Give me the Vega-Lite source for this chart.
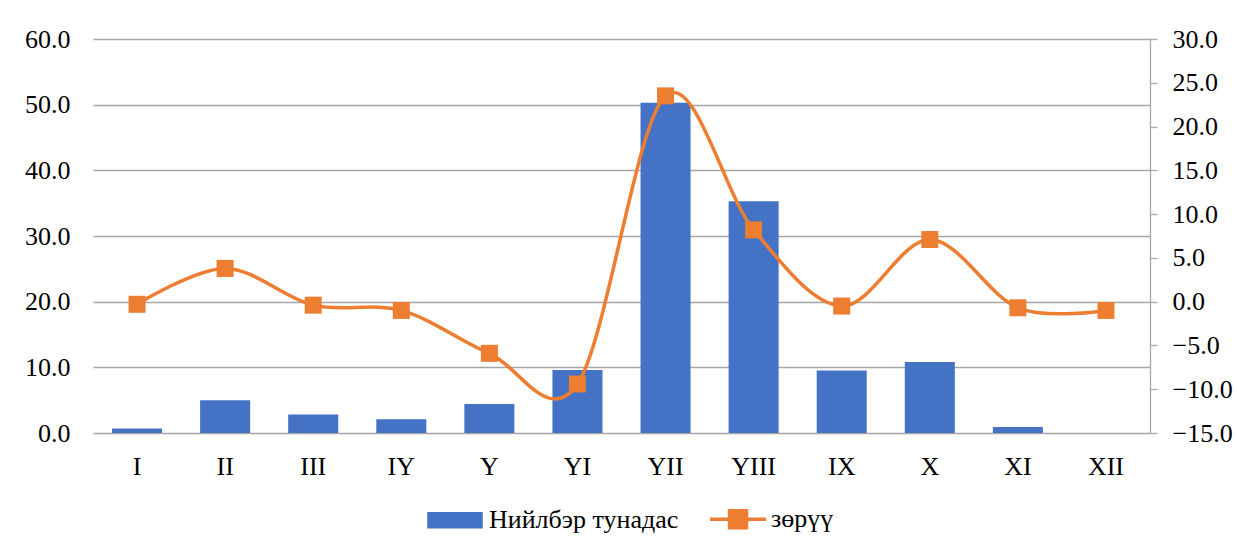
{
  "$schema": "https://vega.github.io/schema/vega-lite/v6.json",
  "autosize": {"type": "none"},
  "width": 1057,
  "height": 394,
  "padding": {"left": 93, "top": 39, "right": 87, "bottom": 119},
  "background": "white",
  "config": {
    "view": {"stroke": null},
    "font": "Times New Roman, Liberation Serif, serif",
    "axis": {"labelFont": "Times New Roman, Liberation Serif, serif", "labelFontSize": 26, "labelColor": "#000000", "title": null},
    "legend": {"labelFont": "Times New Roman, Liberation Serif, serif", "labelFontSize": 26, "labelColor": "#000000", "labelLimit": 0}
  },
  "data": {
    "values": [
      {"m": "I", "series": "Нийлбэр тунадас", "v": 0.7},
      {"m": "II", "series": "Нийлбэр тунадас", "v": 5.0},
      {"m": "III", "series": "Нийлбэр тунадас", "v": 2.8},
      {"m": "IY", "series": "Нийлбэр тунадас", "v": 2.1},
      {"m": "Y", "series": "Нийлбэр тунадас", "v": 4.4},
      {"m": "YI", "series": "Нийлбэр тунадас", "v": 9.6},
      {"m": "YII", "series": "Нийлбэр тунадас", "v": 50.3},
      {"m": "YIII", "series": "Нийлбэр тунадас", "v": 35.3},
      {"m": "IX", "series": "Нийлбэр тунадас", "v": 9.5},
      {"m": "X", "series": "Нийлбэр тунадас", "v": 10.8},
      {"m": "XI", "series": "Нийлбэр тунадас", "v": 0.9},
      {"m": "XII", "series": "Нийлбэр тунадас", "v": 0.0},
      {"m": "I", "series": "зөрүү", "v": -0.3},
      {"m": "II", "series": "зөрүү", "v": 3.8},
      {"m": "III", "series": "зөрүү", "v": -0.4},
      {"m": "IY", "series": "зөрүү", "v": -1.0},
      {"m": "Y", "series": "зөрүү", "v": -5.9},
      {"m": "YI", "series": "зөрүү", "v": -9.4},
      {"m": "YII", "series": "зөрүү", "v": 23.5},
      {"m": "YIII", "series": "зөрүү", "v": 8.2},
      {"m": "IX", "series": "зөрүү", "v": -0.5},
      {"m": "X", "series": "зөрүү", "v": 7.1},
      {"m": "XI", "series": "зөрүү", "v": -0.7},
      {"m": "XII", "series": "зөрүү", "v": -1.0}
    ]
  },
  "encoding": {
    "x": {
      "field": "m",
      "type": "nominal",
      "sort": null,
      "scale": {"paddingInner": 0.432, "paddingOuter": 0.216},
      "axis": {"labelAngle": 0, "domain": false, "ticks": false, "labelPadding": 20, "grid": false}
    },
    "color": {
      "field": "series",
      "type": "nominal",
      "scale": {"domain": ["Нийлбэр тунадас", "зөрүү"], "range": ["#4472C4", "#ED7D31"]},
      "legend": {
        "title": null,
        "orient": "none",
        "direction": "horizontal",
        "legendX": 350,
        "legendY": 467,
        "symbolSize": 400,
        "labelOffset": 20,
        "labelLimit": 0,
        "columnPadding": 24,
        "encode": {
          "symbols": {
            "update": {
              "shape": {"signal": "datum.value === 'зөрүү' ? 'M-2.8,0H2.8M-0.85,-0.85H0.85V0.85H-0.85Z' : 'M-2.7,-0.65H2.5V0.65H-2.7Z'"},
              "fill": {"signal": "datum.value === 'зөрүү' ? '#ED7D31' : '#4472C4'"},
              "stroke": {"signal": "datum.value === 'зөрүү' ? '#ED7D31' : 'transparent'"},
              "strokeWidth": {"value": 3.5},
              "opacity": {"value": 1}
            }
          }
        }
      }
    }
  },
  "layer": [
    {
      "transform": [{"filter": "datum.series === 'Нийлбэр тунадас'"}],
      "mark": {"type": "bar"},
      "encoding": {
        "y": {
          "field": "v",
          "type": "quantitative",
          "scale": {"domain": [0, 60], "nice": false},
          "axis": {
            "values": [0, 10, 20, 30, 40, 50, 60],
            "format": ".1f",
            "domain": false,
            "ticks": false,
            "labelPadding": 23,
            "grid": true,
            "gridColor": "#a6a6a6",
            "gridWidth": 1.3
          }
        }
      }
    },
    {
      "transform": [{"filter": "datum.series === 'зөрүү'"}],
      "mark": {
        "type": "line",
        "interpolate": "cardinal",
        "strokeWidth": 3.5,
        "point": {"shape": "square", "size": 289, "filled": true, "opacity": 1}
      },
      "encoding": {
        "y": {
          "field": "v",
          "type": "quantitative",
          "scale": {"domain": [-15, 30], "nice": false, "zero": false},
          "axis": {
            "orient": "right",
            "values": [-15, -10, -5, 0, 5, 10, 15, 20, 25, 30],
            "format": ".1f",
            "grid": false,
            "domain": true,
            "domainColor": "#a6a6a6",
            "domainWidth": 1.3,
            "ticks": true,
            "tickSize": 7,
            "tickColor": "#a6a6a6",
            "tickWidth": 1.3,
            "labelPadding": 15
          }
        }
      }
    }
  ],
  "resolve": {"scale": {"y": "independent"}}
}
